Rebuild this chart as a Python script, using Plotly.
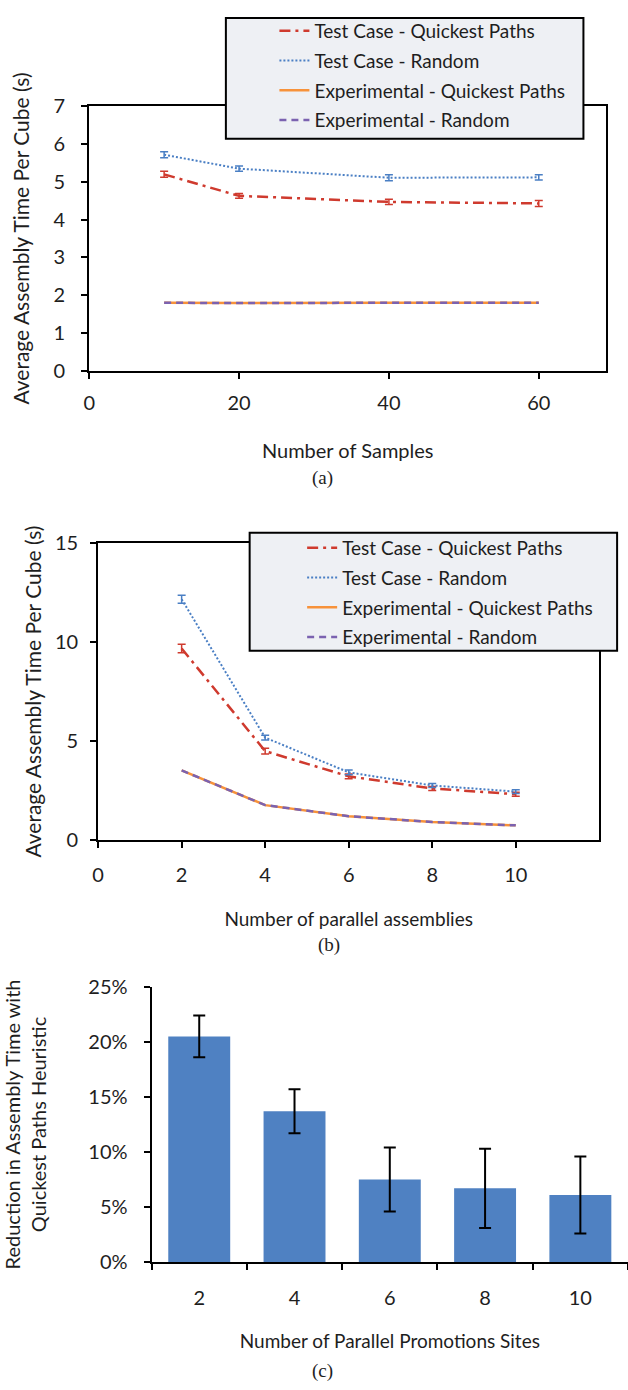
import plotly.graph_objects as go

W, H = 628, 1390

# ---------------- data ----------------
series_names = ["Test Case - Quickest Paths", "Test Case - Random",
                "Experimental - Quickest Paths", "Experimental - Random"]

# Panel (a)
samples = [10, 20, 40, 60]
a_test_quick = [5.20, 4.63, 4.47, 4.43]
a_test_quick_err = [0.08, 0.06, 0.07, 0.08]
a_test_random = [5.72, 5.35, 5.11, 5.12]
a_test_random_err = [0.08, 0.07, 0.08, 0.07]
a_exp_quick = [1.80, 1.79, 1.80, 1.80]
a_exp_random = [1.80, 1.79, 1.80, 1.80]
a_xticks = [0, 20, 40, 60]

# Panel (b)
parallel = [2, 4, 6, 8, 10]
b_test_quick = [9.67, 4.50, 3.23, 2.62, 2.33]
b_test_quick_err = [0.22, 0.15, 0.12, 0.10, 0.10]
b_test_random = [12.15, 5.18, 3.43, 2.77, 2.46]
b_test_random_err = [0.20, 0.12, 0.12, 0.10, 0.10]
b_exp_quick = [3.53, 1.78, 1.22, 0.93, 0.76]
b_exp_random = [3.53, 1.78, 1.22, 0.93, 0.76]
b_xticks = [0, 2, 4, 6, 8, 10]

# Panel (c)
sites = ["2", "4", "6", "8", "10"]
reduction = [0.205, 0.137, 0.075, 0.067, 0.061]
reduction_err = [0.019, 0.020, 0.029, 0.036, 0.035]

# ---------------- style ----------------
RED = "#cf3a2e"
BLUE = "#4a7fc4"
ORANGE = "#f7923a"
PURPLE = "#7b62b0"
BAR = "#4f81c2"
FONT = "Lato"
TXT = "#1e1e1e"


def xd(l, r):
    return [l / W, r / W]


def yd(top, bottom):
    return [1 - bottom / H, 1 - top / H]


fig = go.Figure()


def add_lines(x, tq, tqe, tr, tre, eq, er, xa, ya, leg, grp):
    fig.add_trace(go.Scatter(
        x=x, y=tq, name=series_names[0], mode="lines", xaxis=xa, yaxis=ya,
        legend=leg, legendgroup=grp + "1",
        line=dict(color=RED, width=2.5, dash="11px,5px,3px,5px"),
        error_y=dict(type="data", array=tqe, color=RED, thickness=1.5, width=4)))
    fig.add_trace(go.Scatter(
        x=x, y=tr, name=series_names[1], mode="lines", xaxis=xa, yaxis=ya,
        legend=leg, legendgroup=grp + "2",
        line=dict(color=BLUE, width=2, dash="2px,2px"),
        error_y=dict(type="data", array=tre, color=BLUE, thickness=1.5, width=4)))
    fig.add_trace(go.Scatter(
        x=x, y=eq, name=series_names[2], mode="lines", xaxis=xa, yaxis=ya,
        legend=leg, legendgroup=grp + "3",
        line=dict(color=ORANGE, width=2.5)))
    fig.add_trace(go.Scatter(
        x=x, y=er, name=series_names[3], mode="lines", xaxis=xa, yaxis=ya,
        legend=leg, legendgroup=grp + "4",
        line=dict(color=PURPLE, width=2.5, dash="7px,5px")))


add_lines(samples, a_test_quick, a_test_quick_err, a_test_random, a_test_random_err,
          a_exp_quick, a_exp_random, "x", "y", "legend", "a")
add_lines(parallel, b_test_quick, b_test_quick_err, b_test_random, b_test_random_err,
          b_exp_quick, b_exp_random, "x2", "y2", "legend2", "b")

fig.add_trace(go.Bar(
    x=sites, y=reduction, xaxis="x3", yaxis="y3", showlegend=False,
    marker=dict(color=BAR, line=dict(width=0)),
    error_y=dict(type="data", array=reduction_err, color="black", thickness=2, width=6)))

tickfont = dict(family=FONT, size=20, color=TXT)
ytitlefont = dict(family=FONT, size=21, color=TXT)
common = dict(showgrid=False, zeroline=False, showline=True, linecolor="black",
              linewidth=2, ticks="outside", tickcolor="black", tickwidth=1.5,
              ticklen=6, tickfont=tickfont)

legend_style = dict(bgcolor="rgba(0,0,0,0)", borderwidth=0,
                    font=dict(family=FONT, size=19, color=TXT),
                    tracegroupgap=2, xanchor="left", yanchor="top")

ann_font = dict(family="Liberation Serif", size=19, color=TXT)

fig.update_layout(
    width=W, height=H, margin=dict(l=0, r=0, t=0, b=0),
    paper_bgcolor="white", plot_bgcolor="white",
    bargap=0.35,
    xaxis=dict(domain=xd(84, 606), range=[0, 69], tickvals=a_xticks, mirror=True,
               anchor="y", ticklabelstandoff=7,
               title=dict(text="Number of Samples",
                          font=dict(family=FONT, size=20, color=TXT), standoff=31),
               **common),
    yaxis=dict(domain=yd(95, 364), range=[0, 7], dtick=1, mirror=True, anchor="x",
               ticklabelstandoff=12,
               title=dict(text="Average Assembly Time Per Cube (s)", font=ytitlefont, standoff=18),
               **common),
    xaxis2=dict(domain=xd(93, 599), range=[0, 12], tickvals=b_xticks, mirror=True,
                anchor="y2", ticklabelstandoff=10,
                title=dict(text="Number of parallel assemblies",
                           font=dict(family=FONT, size=19, color=TXT), standoff=27),
                **common),
    yaxis2=dict(domain=yd(539, 842), range=[0, 15], dtick=5, mirror=True, anchor="x2",
                ticklabelstandoff=8,
                title=dict(text="Average Assembly Time Per Cube (s)", font=ytitlefont, standoff=8),
                **common),
    xaxis3=dict(domain=xd(147, 628), type="category", range=[-0.5, 4.5],
                tickson="boundaries", anchor="y3", ticklabelstandoff=17,
                title=dict(text="Number of Parallel Promotions Sites",
                           font=dict(family=FONT, size=19, color=TXT), standoff=27),
                **common),
    yaxis3=dict(domain=yd(991, 1271), range=[0, 0.25], dtick=0.05, tickformat=".0%",
                anchor="x3", ticklabelstandoff=12,
                title=dict(text="Reduction in Assembly Time with<br>Quickest Paths Heuristic",
                           font=dict(family=FONT, size=20, color=TXT), standoff=36),
                **common),
    legend=dict(x=271 / W, y=1 + 1 / H, **legend_style),
    legend2=dict(x=299 / W, y=1 - 525 / H, **legend_style),
    shapes=[
        dict(type="rect", xref="paper", yref="paper", layer="above",
             x0=222 / W, x1=583 / W, y0=1 - 128 / H, y1=1 - 5 / H,
             fillcolor="#eef0f4", line=dict(color="black", width=2)),
        dict(type="rect", xref="paper", yref="paper", layer="above",
             x0=246 / W, x1=617 / W, y0=1 - 649 / H, y1=1 - 529 / H,
             fillcolor="#eef0f4", line=dict(color="black", width=2)),
    ],
    annotations=[
        dict(text="(a)", x=320 / W, y=1 - 473 / H, xref="paper", yref="paper",
             xanchor="center", yanchor="middle", showarrow=False, font=ann_font),
        dict(text="(b)", x=326 / W, y=1 - 948 / H, xref="paper", yref="paper",
             xanchor="center", yanchor="middle", showarrow=False, font=ann_font),
        dict(text="(c)", x=320 / W, y=1 - 1382 / H, xref="paper", yref="paper",
             xanchor="center", yanchor="middle", showarrow=False, font=ann_font),
    ],
)

fig.write_html("out.html")
